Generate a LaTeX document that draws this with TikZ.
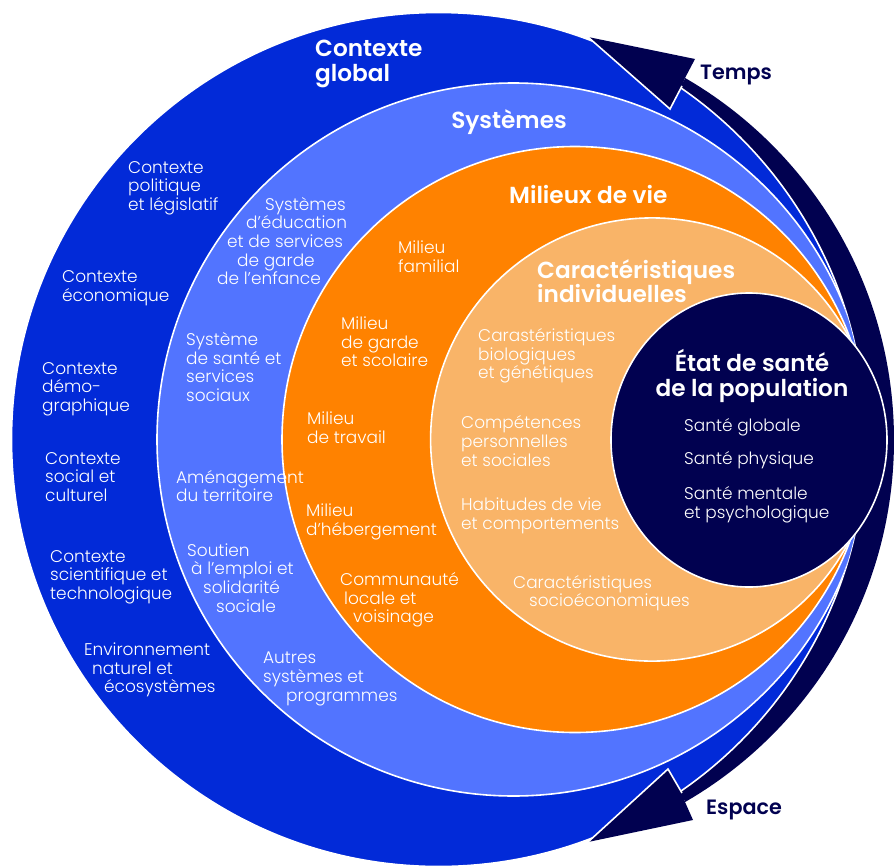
\documentclass[tikz,border=0pt]{standalone}
\usepackage{fontspec}
\setmainfont{Poppins}
\newfontfamily\lightfont{Poppins Light}
\newfontfamily\semifont{Poppins SemiBold}
\definecolor{navy}{RGB}{1,1,80}
\definecolor{gblue}{RGB}{2,42,216}
\definecolor{lblue}{RGB}{82,116,255}
\definecolor{orng}{RGB}{255,130,0}
\definecolor{lorng}{RGB}{249,180,104}
\tikzset{
  layer/.style={draw=white, line width=1.6bp},
  txt/.style={text=white, font=\lightfont\fontsize{17}{18.7}\selectfont, align=left, anchor=west, inner sep=0pt},
  ttl/.style={text=white, font=\semifont\fontsize{23.3}{24.6}\selectfont, align=left, anchor=west, inner sep=0pt},
  arrowlbl/.style={text=navy, font=\semifont\fontsize{20.8}{22}\selectfont, anchor=west, inner sep=0pt},
}
\begin{document}
\begin{tikzpicture}[x=1bp, y=-1bp]
\useasboundingbox (0,0) rectangle (894,866);
% navy band (Temps / Espace)
\begin{scope}
  \clip (725,-2) -- (645,159) -- (645,721) -- (725,882) -- (900,882) -- (900,-2) -- cycle;
  \fill[navy] (476,440) circle[radius=418];
\end{scope}
% Contexte global
\filldraw[fill=gblue, layer] (438.5,439.5) circle[radius=427];
% arrowheads
\fill[navy] (588,37) -- (695,59) -- (685,78) -- (682,86) -- (670,109) -- cycle;
\draw[white, line width=1.6bp] (682,86) -- (670,109) -- (588,37);
\fill[navy] (588,842) -- (693,820) -- (685,802) -- (682,793) -- (668,769) -- cycle;
\draw[white, line width=1.6bp] (682,793) -- (668,769) -- (588,842);
% inner layers
\begin{scope}
  \clip (438.5,439.5) circle[radius=427];
  \filldraw[fill=lblue, layer] (513.5,439.5) circle[radius=356.5];
  \filldraw[fill=orng, layer] (575,439.5) circle[radius=293];
  \filldraw[fill=lorng, layer] (652.2,439.5) circle[radius=221.6];
\end{scope}
\filldraw[fill=navy, layer] (749,440) circle[x radius=138, y radius=147];

% titles
\node[ttl] (tctx) at (315,64) {Contexte\\global};
\node[ttl, anchor=center] (tsys) at (509,122) {Systèmes};
\node[ttl] (tmil) at (509,195) {Milieux de vie};
\node[ttl] (tcar) at (537,281) {Caractéristiques\\individuelles};
\node[ttl, anchor=center, align=center] (tetat) at (752,376) {État de santé\\de la population};
\node[arrowlbl] (temps) at (700,75) {Temps};
\node[arrowlbl] (espace) at (706,810) {Espace};

% Contexte global items
\node[txt] (cpol) at (128,188) {Contexte\\politique\\et législatif};
\node[txt] (ceco) at (62,288) {Contexte\\économique};
\node[txt] (cdem) at (42,389) {Contexte\\démo-\\graphique};
\node[txt] (csoc) at (45,477) {Contexte\\social et\\culturel};
\node[txt] (csci) at (50,577) {Contexte\\scientifique et\\technologique};
\node[txt] (cenv) at (84,670) {Environnement\\\hspace*{8bp}naturel et\\\hspace*{20bp}écosystèmes};

% Systemes items
\node[txt] (sedu) at (217,241) {\hspace*{48bp}Systèmes\\\hspace*{29bp}d’éducation\\\hspace*{10bp}et de services\\\hspace*{20bp}de garde\\de l’enfance};
\node[txt] (ssan) at (186,367) {Système\\de santé et\\services\\sociaux};
\node[txt] (samen) at (176,486) {Aménagement\\du territoire};
\node[txt] (ssout) at (187,578) {Soutien\\\hspace*{4bp}à l’emploi et\\\hspace*{16bp}solidarité\\\hspace*{29bp}sociale};
\node[txt] (sautr) at (263,679) {Autres\\systèmes et\\\hspace*{23bp}programmes};

% Milieux de vie items
\node[txt] (mfam) at (398,257) {Milieu\\familial};
\node[txt] (mgar) at (341,342) {Milieu\\de garde\\et scolaire};
\node[txt] (mtra) at (307,428) {Milieu\\de travail};
\node[txt] (mheb) at (306,522) {Milieu\\d’hébergement};
\node[txt] (mcom) at (340,600) {Communauté\\\hspace*{4bp}locale et\\\hspace*{13bp}voisinage};

% Caracteristiques individuelles items
\node[txt] (cbio) at (478,356) {Carastéristiques\\biologiques\\et génétiques};
\node[txt] (ccomp) at (461,441) {Compétences\\personnelles\\et sociales};
\node[txt] (chab) at (461,516) {Habitudes de vie\\et comportements};
\node[txt] (csoe) at (513,593) {Caractéristiques\\\hspace*{16bp}socioéconomiques};

% Etat de sante items
\node[txt] (sglo) at (684,427) {Santé globale};
\node[txt] (sphy) at (684,460) {Santé physique};
\node[txt] (smen) at (684,505) {Santé mentale\\et psychologique};
\end{tikzpicture}
\end{document}
